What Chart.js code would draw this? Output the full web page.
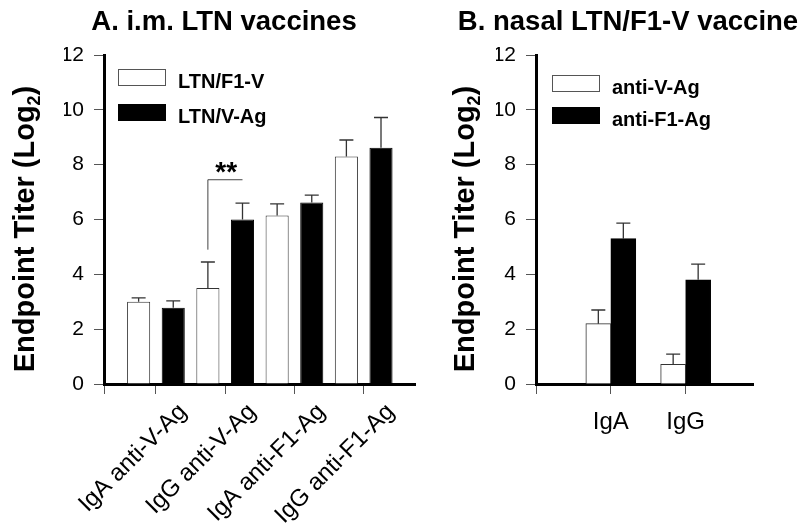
<!DOCTYPE html>
<html>
<head>
<meta charset="utf-8">
<script src="https://cdn.jsdelivr.net/npm/chart.js@4.4.0/dist/chart.umd.min.js"></script>
<style>
  body { margin: 0; background: #fff; }
  #wrap { position: relative; width: 800px; height: 525px; }
  canvas { position: absolute; top: 0; }
  #chartA { left: 0; }
  #chartB { left: 440px; }
</style>
</head>
<body>
<div id="wrap">
  <canvas id="chartA" width="440" height="525"></canvas>
  <canvas id="chartB" width="360" height="525"></canvas>
</div>
<script>
// Panel A - i.m. vaccines
const imCategories = ['IgA anti-V-Ag', 'IgG anti-V-Ag', 'IgA anti-F1-Ag', 'IgG anti-F1-Ag'];
const imLabels = ['LTN/F1-V', 'LTN/V-Ag'];
const imF1V = [3.0, 3.5, 6.15, 8.3];
const imF1VErr = [0.14, 0.95, 0.42, 0.6];
const imVAg = [2.78, 6.0, 6.62, 8.62];
const imVAgErr = [0.25, 0.6, 0.27, 1.1];
const imSignif = [4.9, 7.45];  // ** bracket on IgG anti-V-Ag

// Panel B - nasal vaccine
const nasalCategories = ['IgA', 'IgG'];
const nasalLabels = ['anti-V-Ag', 'anti-F1-Ag'];
const nasalV = [2.2, 0.72];
const nasalVErr = [0.5, 0.37];
const nasalF1 = [5.3, 3.8];
const nasalF1Err = [0.57, 0.57];

const yTickValues = [0, 2, 4, 6, 8, 10, 12];

const FONT = 'Arial, "Liberation Sans", sans-serif';

// draws titles, legend, y title, error bars and the ** bracket
function decoPlugin(p) {
    return {
        id: 'deco',
        afterDatasetsDraw(chart) {
            const ctx = chart.ctx;
            const y = chart.scales.y;
            ctx.save();
            ctx.strokeStyle = '#333';
            ctx.lineWidth = 1.3;
            chart.data.datasets.forEach((ds, di) => {
                const meta = chart.getDatasetMeta(di);
                meta.data.forEach((bar, i) => {
                    const top = y.getPixelForValue(ds.data[i].y + ds.err[i]);
                    ctx.beginPath();
                    ctx.moveTo(bar.x, bar.y);
                    ctx.lineTo(bar.x, top);
                    ctx.moveTo(bar.x - 7, top);
                    ctx.lineTo(bar.x + 7, top);
                    ctx.stroke();
                });
            });

            if (p.signif) {
                const g = p.signif.group;
                const x1 = chart.getDatasetMeta(0).data[g].x;
                const x2 = chart.getDatasetMeta(1).data[g].x;
                const yLow = y.getPixelForValue(p.signif.range[0]);
                const yHigh = y.getPixelForValue(p.signif.range[1]);
                ctx.strokeStyle = '#444';
                ctx.lineWidth = 1;
                ctx.beginPath();
                ctx.moveTo(x1, yLow);
                ctx.lineTo(x1, yHigh);
                ctx.lineTo(x2, yHigh);
                ctx.stroke();
                ctx.fillStyle = '#000';
                ctx.font = 'bold 28px ' + FONT;
                ctx.textAlign = 'center';
                ctx.textBaseline = 'alphabetic';
                ctx.fillText('**', (x1 + x2) / 2 + 1, yHigh + 1);
            }
            ctx.restore();
        },
        afterDraw(chart) {
            const ctx = chart.ctx;
            ctx.save();
            ctx.fillStyle = '#000';
            ctx.textBaseline = 'alphabetic';

            // title
            ctx.font = 'bold 27.5px ' + FONT;
            ctx.textAlign = 'center';
            ctx.fillText(p.title, p.titleX, 30);

            // y axis title with subscript
            ctx.save();
            ctx.translate(p.yTitleX, p.yTitleY);
            ctx.rotate(-Math.PI / 2);
            const big = 'bold 29px ' + FONT;
            const small = 'bold 18px ' + FONT;
            ctx.font = big;
            const w1 = ctx.measureText('Endpoint Titer (Log').width;
            const w3 = ctx.measureText(')').width;
            ctx.font = small;
            const w2 = ctx.measureText('2').width;
            let x = -(w1 + w2 + w3) / 2;
            ctx.textAlign = 'left';
            ctx.font = big;
            ctx.fillText('Endpoint Titer (Log', x, 0);
            x += w1;
            ctx.font = small;
            ctx.fillText('2', x, 6);
            x += w2;
            ctx.font = big;
            ctx.fillText(')', x, 0);
            ctx.restore();

            // legend
            ctx.font = 'bold 20px ' + FONT;
            ctx.textAlign = 'left';
            chart.data.datasets.forEach((ds, i) => {
                const top = p.legendTop + i * p.legendGap;
                ctx.fillStyle = ds.backgroundColor;
                ctx.fillRect(p.legendX, top, 48, 17);
                ctx.strokeStyle = i === 0 ? '#555' : '#000';
                ctx.lineWidth = 1;
                ctx.strokeRect(p.legendX + 0.5, top + 0.5, 47, 16);
                ctx.fillStyle = '#000';
                ctx.fillText(ds.label, p.legendX + 60, top + 19);
            });
            ctx.restore();
        }
    };
}

function createChart(canvasId, p) {
    const ctx = document.getElementById(canvasId).getContext('2d');
    const toPoints = arr => arr.map((v, i) => ({ x: i, y: v }));
    return new Chart(ctx, {
        type: 'bar',
        data: {
            datasets: [{
                label: p.labels[0],
                data: toPoints(p.values[0]),
                err: p.errors[0],
                backgroundColor: '#fff',
                borderColor: '#333',
                borderWidth: 1
            }, {
                label: p.labels[1],
                data: toPoints(p.values[1]),
                err: p.errors[1],
                backgroundColor: '#000',
                borderColor: '#000',
                borderWidth: 1
            }]
        },
        options: {
            responsive: false,
            animation: false,
            devicePixelRatio: 1,
            categoryPercentage: p.catPct,
            barPercentage: p.barPct,
            barThickness: p.barThickness,
            layout: { padding: p.padding },
            plugins: {
                legend: { display: false },
                title: { display: false },
                tooltip: { enabled: false }
            },
            scales: {
                x: {
                    type: 'linear',
                    min: p.xMin,
                    max: p.xMax,
                    offset: false,
                    z: 1,
                    ticks: {
                        stepSize: 1,
                        autoSkip: false,
                        minRotation: p.rotation,
                        maxRotation: p.rotation,
                        labelOffset: p.labelOffset,
                        padding: p.labelPadding,
                        color: '#000',
                        font: { size: 24, family: FONT },
                        callback: v => (Number.isInteger(v) && p.categories[v]) ? p.categories[v] : ''
                    },
                    grid: {
                        offset: false,
                        drawOnChartArea: false,
                        tickLength: 10,
                        tickWidth: 1,
                        tickColor: c => (c.tick && c.tick.value === p.xMax) ? 'rgba(0,0,0,0)' : '#555'
                    },
                    border: { color: '#000', width: 3 },
                    afterFit: s => { s.height = 141; }
                },
                y: {
                    min: 0,
                    max: 12,
                    z: 1,
                    afterBuildTicks: s => { s.ticks = yTickValues.map(v => ({ value: v })); },
                    ticks: {
                        padding: 10,
                        color: '#000',
                        font: { size: 21, family: FONT }
                    },
                    grid: {
                        drawOnChartArea: false,
                        tickLength: 10,
                        tickWidth: 1,
                        tickColor: '#555'
                    },
                    border: { color: '#000', width: 3 },
                    afterFit: s => { s.width = 40; }
                }
            }
        },
        plugins: [decoPlugin(p)]
    });
}

createChart('chartA', {
    title: 'A. i.m. LTN vaccines',
    titleX: 224,
    categories: imCategories,
    labels: imLabels,
    values: [imF1V, imVAg],
    errors: [imF1VErr, imVAgErr],
    signif: { group: 1, range: imSignif },
    xMin: -0.75,
    xMax: 3.75,
    rotation: 45,
    labelOffset: 27,
    labelPadding: 4,
    catPct: 1.333,
    barPct: 0.667,
    padding: { left: 64, top: 55, right: 12, bottom: 0 },
    yTitleX: 34,
    yTitleY: 229,
    legendX: 118,
    legendTop: 69,
    legendGap: 35
});

createChart('chartB', {
    title: 'B. nasal LTN/F1-V vaccine',
    titleX: 188,
    categories: nasalCategories,
    labels: nasalLabels,
    values: [nasalV, nasalF1],
    errors: [nasalVErr, nasalF1Err],
    xMin: -1,
    xMax: 1.9,
    rotation: 0,
    labelOffset: 0,
    labelPadding: 14,
    barThickness: 25,
    padding: { left: 56, top: 55, right: 47, bottom: 0 },
    yTitleX: 34,
    yTitleY: 229,
    legendX: 112,
    legendTop: 75,
    legendGap: 32
});
</script>
</body>
</html>
